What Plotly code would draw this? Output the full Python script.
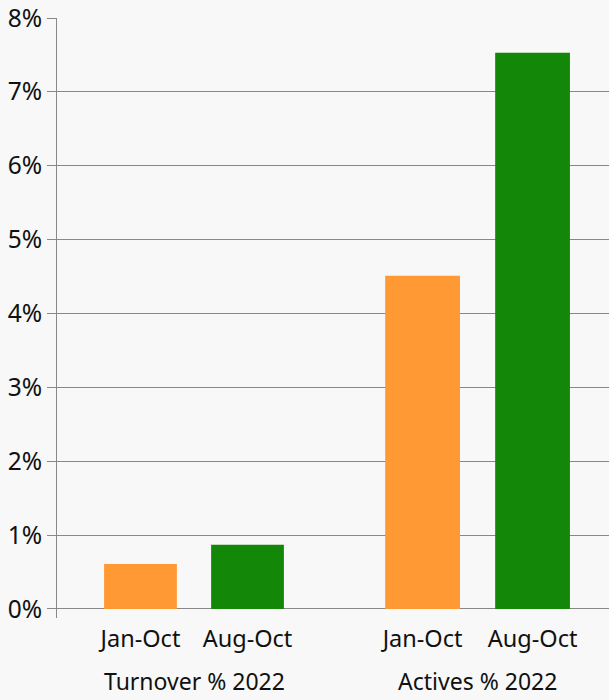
import plotly.graph_objects as go

groups = ["Turnover % 2022", "Actives % 2022"]
periods = ["Jan-Oct", "Aug-Oct"]
turnover = [0.61, 0.87]
actives = [4.51, 7.53]
bar_colors = ["#FF9933", "#138808"]
y_ticks = [0, 1, 2, 3, 4, 5, 6, 7, 8]
y_ticktext = ["{}%".format(v) for v in y_ticks]

FONT = "Noto Sans"
GRID = "#888888"
BG = "#f8f8f8"

fig = go.Figure()

fig.add_trace(go.Bar(x=periods, y=turnover, marker_color=bar_colors,
                     marker_line_width=0, xaxis="x", yaxis="y",
                     showlegend=False, name=groups[0]))
fig.add_trace(go.Bar(x=periods, y=actives, marker_color=bar_colors,
                     marker_line_width=0, xaxis="x2", yaxis="y2",
                     showlegend=False, name=groups[1]))

# group labels under each pair of bars
for xref, label in zip(["x", "x2"], groups):
    fig.add_annotation(text=label, xref=xref, yref="paper", x=0.5, y=-0.105,
                       showarrow=False, yanchor="middle", xanchor="center",
                       font=dict(family=FONT, size=23, color="#111111"))

fig.update_layout(
    width=609,
    height=700,
    margin=dict(l=57, r=0, t=18, b=82),
    paper_bgcolor=BG,
    plot_bgcolor=BG,
    bargap=0.32,
    font=dict(family=FONT, size=24, color="#111111"),
    xaxis=dict(domain=[0, 0.578], range=[-0.78, 2.201], showgrid=False,
               zeroline=False, showline=False, ticks="",
               ticklabelstandoff=4, tickfont=dict(size=23.5)),
    xaxis2=dict(domain=[0.578, 1], range=[-0.423, 1.695], showgrid=False,
                zeroline=False, showline=False, ticks="",
                ticklabelstandoff=4, tickfont=dict(size=23.5), anchor="y2"),
    yaxis=dict(range=[-0.122, 8], tickvals=y_ticks, ticktext=y_ticktext,
               showgrid=True, gridcolor=GRID, gridwidth=1, zeroline=False,
               showline=True, linecolor=GRID, linewidth=1,
               ticks="outside", ticklen=9, tickcolor=GRID,
               tickfont=dict(size=24.5)),
    yaxis2=dict(matches="y", range=[-0.122, 8], tickvals=y_ticks,
                showticklabels=False, showgrid=True, gridcolor=GRID,
                gridwidth=1, zeroline=False, showline=False, ticks="",
                anchor="x2"),
)

fig.write_html("out.html",
               config={"displayModeBar": False},
               post_script="document.body.style.margin='0';"
                           "document.body.style.background='#f8f8f8';")
